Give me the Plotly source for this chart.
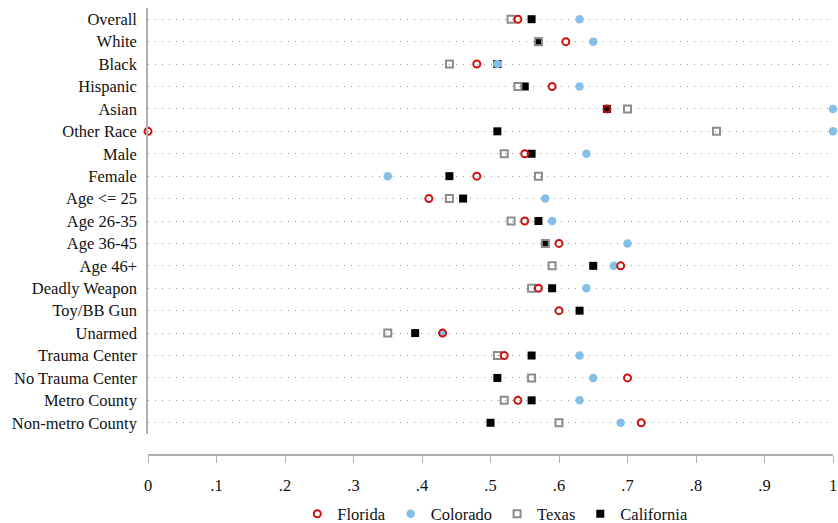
import plotly.graph_objects as go

categories = ["Overall", "White", "Black", "Hispanic", "Asian", "Other Race", "Male", "Female",
              "Age <= 25", "Age 26-35", "Age 36-45", "Age 46+", "Deadly Weapon", "Toy/BB Gun",
              "Unarmed", "Trauma Center", "No Trauma Center", "Metro County", "Non-metro County"]

florida = [0.54, 0.61, 0.48, 0.59, 0.67, 0.00, 0.55, 0.48, 0.41, 0.55, 0.60, 0.69, 0.57, 0.60,
           0.43, 0.52, 0.70, 0.54, 0.72]
colorado = [0.63, 0.65, 0.51, 0.63, 1.00, 1.00, 0.64, 0.35, 0.58, 0.59, 0.70, 0.68, 0.64, None,
            0.43, 0.63, 0.65, 0.63, 0.69]
texas = [0.53, 0.57, 0.44, 0.54, 0.70, 0.83, 0.52, 0.57, 0.44, 0.53, 0.58, 0.59, 0.56, None,
         0.35, 0.51, 0.56, 0.52, 0.60]
california = [0.56, 0.57, 0.51, 0.55, 0.67, 0.51, 0.56, 0.44, 0.46, 0.57, 0.58, 0.65, 0.59, 0.63,
              0.39, 0.56, 0.51, 0.56, 0.50]

tick_vals = [0, 0.1, 0.2, 0.3, 0.4, 0.5, 0.6, 0.7, 0.8, 0.9, 1.0]
tick_text = ["0", ".1", ".2", ".3", ".4", ".5", ".6", ".7", ".8", ".9", "1"]

FONT = "Liberation Serif, Times New Roman, serif"
FS = 16.5

fig = go.Figure()
# drawing order: California bottom, then Texas, Colorado, Florida on top
fig.add_trace(go.Scatter(x=california, y=categories, mode="markers", name="California",
                         marker=dict(symbol="square", size=8, color="#000000"),
                         cliponaxis=False))
fig.add_trace(go.Scatter(x=texas, y=categories, mode="markers", name="Texas",
                         marker=dict(symbol="square-open", size=7, color="#8c8c8c",
                                     line=dict(width=2, color="#8c8c8c")),
                         cliponaxis=False))
fig.add_trace(go.Scatter(x=colorado, y=categories, mode="markers", name="Colorado",
                         marker=dict(symbol="circle", size=8.5, color="#85bfe8"),
                         cliponaxis=False))
fig.add_trace(go.Scatter(x=florida, y=categories, mode="markers", name="Florida",
                         marker=dict(symbol="circle-open", size=7, color="#cc1111",
                                     line=dict(width=2, color="#cc1111")),
                         cliponaxis=False))

fig.update_layout(
    width=838, height=523,
    margin=dict(l=148, r=5, t=8, b=68, autoexpand=False),
    paper_bgcolor="white", plot_bgcolor="white",
    font=dict(family=FONT, size=FS, color="#111111"),
    showlegend=True,
    legend=dict(orientation="h", traceorder="reversed", x=0.507, xanchor="center",
                y=-0.132, yanchor="middle", font=dict(family=FONT, size=FS),
                itemwidth=30, bgcolor="rgba(0,0,0,0)"),
    xaxis=dict(range=[0, 1], anchor="free", position=0, tickmode="array",
               tickvals=tick_vals, ticktext=tick_text, showgrid=False, zeroline=False,
               showline=True, linecolor="#b0b0b0", linewidth=1.5, automargin=False,
               ticks="outside", ticklen=7, tickcolor="#b0b0b0", tickwidth=1,
               ticklabelstandoff=8, tickfont=dict(family=FONT, size=FS)),
    yaxis=dict(domain=[0.047, 1], type="category", categoryorder="array",
               categoryarray=categories, range=[18.5, -0.5], automargin=False,
               showgrid=True, gridcolor="#9a9a9a", gridwidth=1, griddash="1px,6px",
               zeroline=False, showline=True, linecolor="#b0b0b0", linewidth=1.5,
               ticks="", ticklabelstandoff=6, tickfont=dict(family=FONT, size=FS)),
)

fig.write_html("out.html", post_script="document.body.style.margin='0';",
               config={"displayModeBar": False})
